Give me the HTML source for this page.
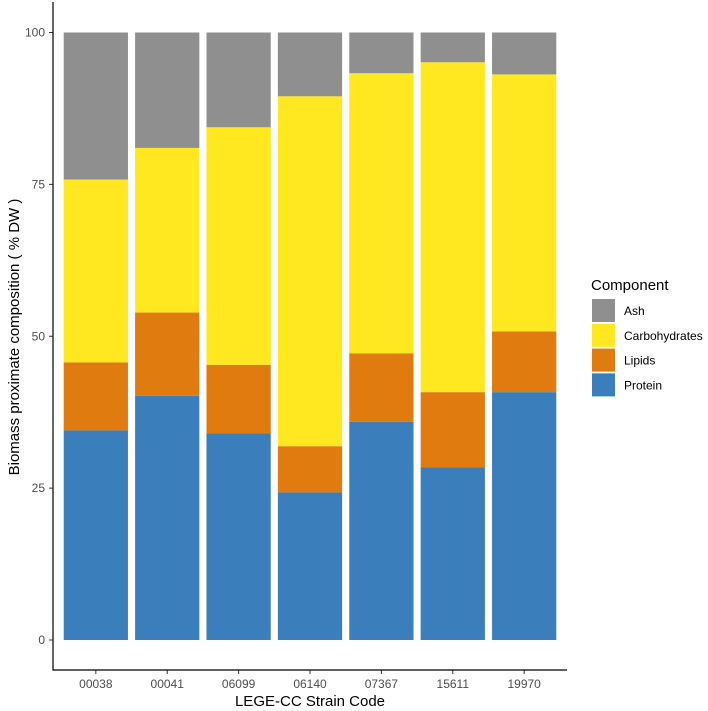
<!DOCTYPE html>
<html><head><meta charset="utf-8"><style>body{margin:0;background:#fff}svg{display:block;font-family:"Liberation Sans",Arial,sans-serif}</style></head>
<body>
<svg id="c" width="708" height="711"></svg>
<script>
const categories=["00038","00041","06099","06140","07367","15611","19970"];
const protein=[34.5,40.2,34.0,24.3,35.9,28.4,40.8];
const lipids=[11.2,13.7,11.3,7.6,11.3,12.4,10.0];
const carbohydrates=[30.1,27.1,39.1,57.6,46.1,54.3,42.3];
const ash=[24.2,19.0,15.6,10.5,6.7,4.9,6.9];
const yTicks=[0,25,50,75,100];
const series=[["Protein",protein,"#3a7fbc"],["Lipids",lipids,"#e07b10"],["Carbohydrates",carbohydrates,"#ffe81f"],["Ash",ash,"#8f8f8f"]];
const NS="http://www.w3.org/2000/svg",svg=document.getElementById('c');
const L=53,R=567,T=2,B=670;
const y=v=>640-v*6.075;
const band=(R-L)/(categories.length+0.2);
const x=i=>L+band*(i+0.6);
function mk(t,a,txt){const e=document.createElementNS(NS,t);for(const k in a)e.setAttribute(k,a[k]);if(txt!=null)e.textContent=txt;svg.appendChild(e);return e;}
categories.forEach((c,i)=>{let base=0;series.forEach(s=>{const v=s[1][i];const r=mk('rect',{x:x(i)-band*0.45,y:y(base+v),width:band*0.9,height:v*6.075,fill:s[2]});

base+=v;});
const tk=mk('line',{x1:x(i),x2:x(i),y1:B,y2:B+4,stroke:'#333'});


const t=mk('text',{x:x(i),y:B+18,'text-anchor':'middle','font-size':12,fill:'#4d4d4d'},c);

});
yTicks.forEach(v=>{const tk=mk('line',{x1:L-4,x2:L,y1:y(v),y2:y(v),stroke:'#333'});


const t=mk('text',{x:L-8,y:y(v)+4,'text-anchor':'end','font-size':12,fill:'#4d4d4d'},v);

});
const ax=mk('path',{d:`M${L} ${T}V${B}H${R}`,fill:'none',stroke:'#000','stroke-width':1.2});


const xt=mk('text',{x:(L+R)/2,y:706,'text-anchor':'middle','font-size':15,fill:'#000'},'LEGE-CC Strain Code');


const yt=mk('text',{x:0,y:0,transform:`translate(19,337) rotate(-90)`,'text-anchor':'middle','font-size':15,fill:'#000'},'Biomass proximate composition ( % DW )');


const lt=mk('text',{x:591,y:290,'font-size':15,fill:'#000'},'Component');


[["Ash","#8f8f8f"],["Carbohydrates","#ffe81f"],["Lipids","#e07b10"],["Protein","#3a7fbc"]].forEach((e,k)=>{
const r=mk('rect',{x:592,y:299+k*24.8,width:23,height:23,fill:e[1]});


const t=mk('text',{x:624,y:315+k*24.8,'font-size':12,fill:'#000'},e[0]);

});
</script>
</body></html>
